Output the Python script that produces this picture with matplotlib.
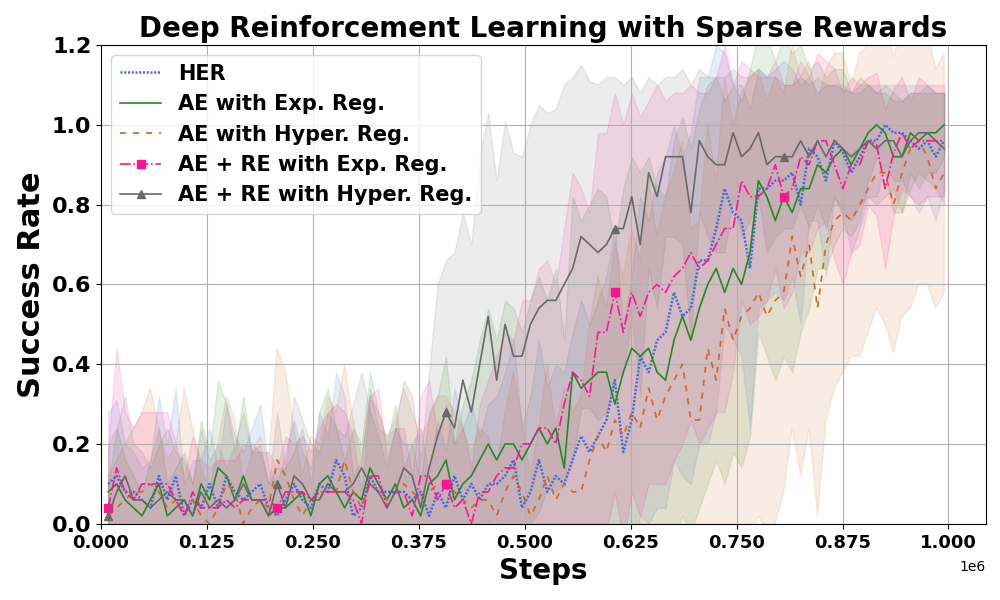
import matplotlib.pyplot as plt
import numpy as np

# evaluation points (environment steps), 100 evaluations
steps = np.linspace(8500, 995000, 100)

her_mean = [.10,.12,.08,.08,.06,.04,.12,.06,.12,.02,
            .06,.04,.10,.04,.12,.08,.06,.08,.10,.04,
            .02,.06,.10,.06,.04,.10,.08,.16,.12,.02,
            .04,.12,.08,.08,.08,.08,.06,.08,.02,.08,
            .04,.12,.06,.10,.06,.10,.10,.12,.16,.04,
            .08,.16,.08,.12,.10,.16,.22,.18,.22,.26,
            .36,.18,.26,.42,.38,.46,.48,.58,.52,.54,
            .66,.66,.74,.84,.78,.76,.64,.84,.84,.86,
            .86,.88,.80,.94,.92,.86,.96,.93,.88,.92,
            .96,.96,1.0,.98,.98,.96,.94,.96,.92,.96]
her_std = [.18,.19,.12,.10,.08,.12,.20,.14,.22,.08,
           .10,.12,.14,.10,.18,.14,.12,.16,.20,.10,
           .08,.12,.16,.12,.10,.18,.14,.22,.20,.10,
           .12,.22,.16,.14,.16,.12,.14,.16,.10,.18,
           .14,.22,.18,.20,.16,.20,.22,.26,.30,.20,
           .24,.30,.26,.28,.28,.32,.34,.32,.34,.36,
           .38,.32,.36,.40,.38,.42,.44,.42,.40,.44,
           .46,.46,.46,.34,.32,.34,.40,.30,.28,.28,
           .30,.26,.30,.18,.16,.24,.14,.16,.20,.18,
           .14,.14,.10,.12,.12,.14,.16,.14,.16,.12]

ae_exp_mean = [.08,.10,.06,.04,.02,.06,.10,.02,.04,.06,
               .02,.10,.06,.14,.12,.06,.12,.06,.06,.02,
               .04,.04,.06,.08,.02,.10,.12,.08,.04,.08,
               .06,.14,.10,.06,.10,.04,.06,.02,.10,.12,
               .16,.06,.10,.12,.16,.20,.16,.20,.20,.16,
               .20,.24,.20,.24,.14,.38,.34,.36,.38,.38,
               .30,.38,.44,.42,.44,.38,.36,.46,.52,.46,
               .54,.60,.64,.58,.64,.60,.68,.86,.82,.76,
               .82,.78,.84,.84,.90,.88,.92,.94,.90,.94,
               .98,1.0,.98,.92,.92,.98,.96,.98,.98,1.0]
ae_exp_std = [.12,.14,.10,.08,.06,.10,.14,.08,.10,.12,
              .08,.16,.12,.22,.18,.12,.20,.12,.14,.08,
              .10,.10,.12,.16,.08,.18,.22,.16,.12,.16,
              .14,.24,.18,.14,.20,.10,.14,.08,.18,.20,
              .26,.14,.20,.24,.30,.34,.30,.36,.34,.32,
              .36,.38,.36,.40,.32,.44,.42,.44,.46,.44,
              .40,.46,.48,.46,.48,.46,.46,.50,.50,.48,
              .50,.50,.48,.48,.46,.46,.46,.38,.40,.40,
              .40,.40,.36,.30,.26,.24,.22,.20,.18,.18,
              .12,.08,.10,.14,.14,.10,.12,.10,.10,.08]

ae_hyper_mean = [.02,.04,.06,.08,.08,.10,.08,.04,.06,.02,
                 .06,.02,.00,.04,.10,.08,.00,.04,.06,.04,
                 .16,.12,.06,.02,.06,.06,.10,.08,.16,.08,
                 .04,.10,.08,.06,.08,.10,.08,.06,.08,.10,
                 .10,.08,.06,.04,.06,.06,.02,.08,.12,.08,
                 .02,.06,.12,.06,.10,.08,.08,.16,.22,.18,
                 .26,.22,.28,.24,.34,.26,.32,.36,.40,.26,
                 .26,.44,.36,.54,.46,.52,.54,.58,.52,.56,
                 .58,.72,.62,.70,.54,.70,.76,.78,.76,.80,
                 .84,.88,.88,.80,.88,.94,.96,.92,.84,.88]
ae_hyper_std = [.10,.12,.14,.16,.20,.24,.16,.12,.14,.32,
                .18,.12,.08,.16,.22,.18,.10,.14,.16,.12,
                .28,.26,.18,.10,.16,.14,.22,.20,.24,.18,
                .12,.22,.20,.16,.18,.24,.20,.16,.18,.22,
                .22,.20,.18,.14,.18,.16,.12,.20,.26,.18,
                .10,.18,.28,.18,.24,.20,.24,.34,.40,.36,
                .44,.40,.46,.42,.52,.46,.50,.52,.56,.48,
                .50,.56,.50,.58,.54,.56,.58,.56,.54,.56,
                .50,.48,.50,.46,.52,.44,.42,.40,.34,.38,
                .36,.34,.38,.37,.36,.40,.36,.32,.30,.30]

aere_exp_mean = [.04,.14,.08,.06,.10,.10,.10,.10,.06,.02,
                 .08,.04,.04,.04,.06,.04,.06,.06,.06,.06,
                 .04,.08,.08,.08,.06,.08,.08,.08,.08,.06,
                 .00,.12,.12,.04,.08,.08,.02,.12,.12,.06,
                 .10,.04,.06,.00,.08,.08,.12,.14,.14,.20,
                 .20,.24,.24,.20,.30,.38,.36,.32,.48,.48,
                 .58,.48,.58,.52,.58,.60,.58,.62,.64,.68,
                 .64,.66,.70,.74,.74,.86,.82,.82,.84,.90,
                 .82,.84,.92,.90,.96,.96,.90,.84,.90,.90,
                 .96,.95,.84,.93,.98,.94,.96,.96,.96,.96]
aere_exp_std = [.16,.30,.20,.18,.18,.18,.18,.18,.14,.10,
                .14,.12,.10,.12,.10,.12,.14,.14,.12,.12,
                .10,.14,.12,.14,.12,.16,.20,.22,.20,.16,
                .08,.20,.22,.12,.16,.16,.10,.20,.24,.16,
                .20,.16,.18,.14,.22,.28,.30,.34,.32,.36,
                .36,.40,.42,.40,.44,.50,.48,.46,.50,.50,
                .50,.52,.50,.50,.48,.50,.48,.46,.44,.42,
                .44,.42,.42,.46,.36,.30,.32,.30,.28,.26,
                .28,.26,.24,.22,.22,.20,.24,.24,.22,.20,
                .16,.18,.20,.16,.14,.12,.16,.14,.14,.14]

aere_hyper_mean = [.02,.08,.12,.06,.06,.04,.06,.08,.06,.06,
                   .02,.08,.04,.06,.04,.06,.10,.06,.06,.02,
                   .10,.04,.12,.10,.06,.06,.10,.08,.08,.10,
                   .14,.10,.08,.04,.08,.14,.12,.04,.14,.22,
                   .28,.24,.36,.28,.40,.52,.36,.50,.42,.42,
                   .50,.54,.56,.56,.60,.64,.72,.70,.68,.70,
                   .74,.74,.82,.70,.88,.82,.92,.92,.92,.78,
                   .96,.92,.90,.90,.98,.92,.94,.98,.90,.92,
                   .92,.92,.96,.92,.96,.92,.96,.94,.92,.94,
                   .96,.94,.96,.96,.92,.96,.98,.98,.96,.94]
aere_hyper_std = [.08,.16,.20,.14,.12,.10,.14,.16,.12,.10,
                  .08,.16,.12,.14,.10,.14,.18,.12,.12,.08,
                  .18,.10,.20,.16,.14,.12,.18,.16,.14,.20,
                  .24,.18,.14,.10,.16,.22,.20,.12,.24,.38,
                  .38,.44,.42,.42,.52,.51,.50,.51,.51,.50,
                  .50,.51,.47,.48,.50,.48,.43,.41,.42,.42,
                  .38,.36,.30,.38,.24,.28,.20,.20,.22,.32,
                  .18,.20,.22,.22,.16,.20,.18,.16,.22,.20,
                  .18,.18,.16,.18,.16,.18,.14,.16,.16,.14,
                  .14,.14,.14,.12,.14,.12,.10,.12,.12,.14]

series = [
    ("HER", her_mean, her_std, "royalblue", (0, (0.8, 0.7)), None, 1.8),
    ("AE with Exp. Reg.", ae_exp_mean, ae_exp_std, "forestgreen", "-", None, 1.2),
    ("AE with Hyper. Reg.", ae_hyper_mean, ae_hyper_std, "chocolate", (0, (3.5, 4)), None, 1.25),
    ("AE + RE with Exp. Reg.", aere_exp_mean, aere_exp_std, "deeppink", "-.", "s", 1.2),
    ("AE + RE with Hyper. Reg.", aere_hyper_mean, aere_hyper_std, "dimgray", "-", "^", 1.2),
]

fig, ax = plt.subplots(figsize=(10, 6), dpi=100)

for label, mean, std, color, ls, marker, lw in series:
    mean = np.array(mean)
    std = np.array(std)
    ax.fill_between(steps, mean - std, mean + std, color=color, alpha=0.12)
    ax.plot(steps, mean, color=color, linestyle=ls, linewidth=lw, label=label,
            marker=marker, markevery=20, markersize=6)

ax.set_title("Deep Reinforcement Learning with Sparse Rewards", fontsize=20, fontweight="bold")
ax.set_xlabel("Steps", fontsize=20, fontweight="bold")
ax.set_ylabel("Success Rate", fontsize=22, fontweight="bold")
ax.set_ylim(0, 1.2)
ax.set_xlim(left=0)
ax.set_xticks(np.arange(0, 1.0001e6, 0.125e6))
ax.set_yticks(np.arange(0, 1.21, 0.2))
ax.xaxis.set_major_formatter(plt.FuncFormatter(lambda v, p: "%.3f" % (v / 1e6)))
ax.yaxis.set_major_formatter(plt.FuncFormatter(lambda v, p: "%.1f" % v))
ax.text(1.0, -0.075, "1e6", transform=ax.transAxes, ha="right", va="top", fontsize=10)
for lab in ax.get_xticklabels():
    lab.set_fontsize(13)
    lab.set_fontweight("bold")
for lab in ax.get_yticklabels():
    lab.set_fontsize(16)
    lab.set_fontweight("bold")
ax.grid(True)
ax.legend(loc="upper left", prop={"weight": "bold", "size": 15})

plt.subplots_adjust(left=0.101, right=0.986, top=0.925, bottom=0.127)
plt.savefig("out.png")
